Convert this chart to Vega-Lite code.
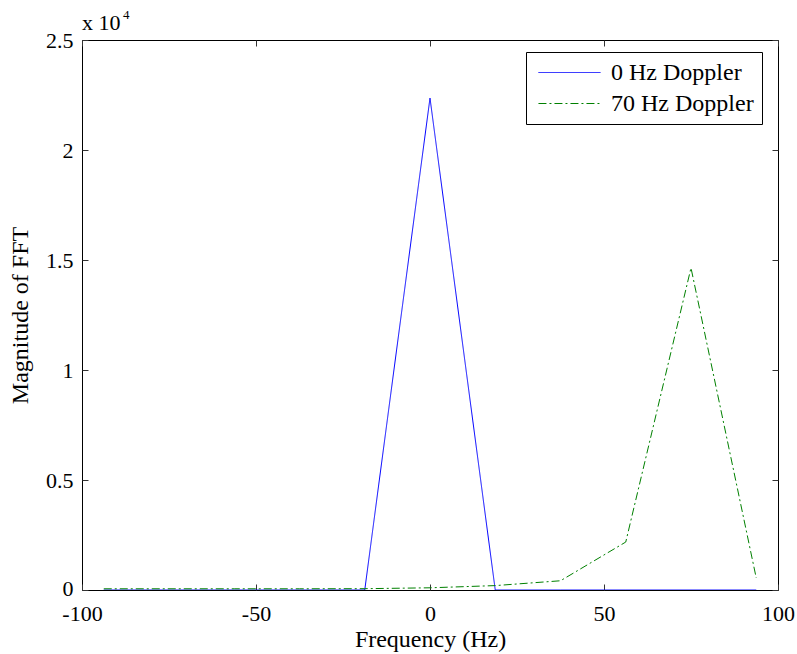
{
  "$schema": "https://vega.github.io/schema/vega-lite/v6.json",
  "autosize": {"type": "none"},
  "width": 696,
  "height": 550,
  "padding": {"left": 82, "top": 40, "right": 19, "bottom": 64},
  "background": "white",
  "config": {
    "view": {"stroke": "#000000", "strokeWidth": 1},
    "font": "Liberation Serif, Times New Roman, serif",
    "axis": {
      "grid": false,
      "domain": false,
      "tickSize": -6,
      "tickColor": "#333333",
      "labelFont": "Liberation Serif, Times New Roman, serif",
      "labelFontSize": 22,
      "labelColor": "#000000",
      "titleFont": "Liberation Serif, Times New Roman, serif",
      "titleFontSize": 24,
      "titleFontWeight": "normal",
      "titleColor": "#000000"
    },
    "legend": {
      "labelFont": "Liberation Serif, Times New Roman, serif",
      "labelFontSize": 24,
      "labelColor": "#000000"
    }
  },
  "datasets": {
    "fft": [
      {"freq": -93.75, "mag": 0, "series": "0 Hz Doppler"},
      {"freq": -75, "mag": 0, "series": "0 Hz Doppler"},
      {"freq": -56.25, "mag": 0, "series": "0 Hz Doppler"},
      {"freq": -37.5, "mag": 0, "series": "0 Hz Doppler"},
      {"freq": -18.75, "mag": 0, "series": "0 Hz Doppler"},
      {"freq": 0, "mag": 22360, "series": "0 Hz Doppler"},
      {"freq": 18.75, "mag": 0, "series": "0 Hz Doppler"},
      {"freq": 37.5, "mag": 0, "series": "0 Hz Doppler"},
      {"freq": 56.25, "mag": 0, "series": "0 Hz Doppler"},
      {"freq": 75, "mag": 0, "series": "0 Hz Doppler"},
      {"freq": 93.75, "mag": 0, "series": "0 Hz Doppler"},
      {"freq": -93.75, "mag": 55, "series": "70 Hz Doppler"},
      {"freq": -75, "mag": 55, "series": "70 Hz Doppler"},
      {"freq": -56.25, "mag": 55, "series": "70 Hz Doppler"},
      {"freq": -37.5, "mag": 55, "series": "70 Hz Doppler"},
      {"freq": -18.75, "mag": 60, "series": "70 Hz Doppler"},
      {"freq": 0, "mag": 100, "series": "70 Hz Doppler"},
      {"freq": 18.75, "mag": 200, "series": "70 Hz Doppler"},
      {"freq": 37.5, "mag": 420, "series": "70 Hz Doppler"},
      {"freq": 56.25, "mag": 2180, "series": "70 Hz Doppler"},
      {"freq": 75, "mag": 14640, "series": "70 Hz Doppler"},
      {"freq": 93.75, "mag": 545, "series": "70 Hz Doppler"}
    ],
    "mult": [{"freq": -100, "mag": 25000, "t": "x 10", "e": "4"}]
  },
  "layer": [
    {
      "data": {"name": "fft"},
      "mark": {"type": "line", "strokeWidth": 1, "clip": true},
      "encoding": {
        "x": {
          "field": "freq", "type": "quantitative",
          "scale": {"domain": [-100, 100], "nice": false, "zero": false},
          "axis": {"values": [-100, -50, 0, 50, 100], "labelExpr": "'' + datum.value", "title": "Frequency (Hz)", "labelPadding": 19, "titlePadding": 3, "labelFlush": false}
        },
        "y": {
          "field": "mag", "type": "quantitative",
          "scale": {"domain": [0, 25000], "nice": false},
          "axis": {"values": [0, 5000, 10000, 15000, 20000, 25000], "labelExpr": "format(datum.value/10000, '~g')", "labelOffset": {"condition": {"test": "datum.value == 0", "value": -2}, "value": 0}, "title": "Magnitude of FFT", "labelPadding": 15, "titlePadding": 13, "labelFlush": false}
        },
        "color": {
          "field": "series", "type": "nominal",
          "scale": {"domain": ["0 Hz Doppler", "70 Hz Doppler"], "range": ["#0000ff", "#008000"]},
          "legend": {
            "title": null, "orient": "none", "legendX": 444, "legendY": 12,
            "symbolType": "M-0.67,0H4.5", "symbolSize": 576, "symbolStrokeWidth": 1,
            "strokeColor": "#000000", "fillColor": "#ffffff", "padding": 8,
            "rowPadding": 6, "labelOffset": 52
          }
        },
        "strokeDash": {
          "field": "series", "type": "nominal",
          "scale": {"domain": ["0 Hz Doppler", "70 Hz Doppler"], "range": [[1, 0], [8, 3, 2, 3]]},
          "legend": null
        }
      }
    },
    {
      "data": {"name": "mult"},
      "mark": {"type": "text", "align": "left", "baseline": "alphabetic", "dy": -10, "fontSize": 22, "font": "Liberation Serif, Times New Roman, serif", "color": "#000000"},
      "encoding": {
        "x": {"field": "freq", "type": "quantitative", "axis": {"orient": "top", "labels": false, "title": null, "values": [-100, -50, 0, 50, 100]}},
        "y": {"field": "mag", "type": "quantitative", "axis": {"orient": "right", "labels": false, "title": null, "values": [0, 5000, 10000, 15000, 20000, 25000]}},
        "text": {"field": "t"}
      }
    },
    {
      "data": {"name": "mult"},
      "mark": {"type": "text", "align": "left", "baseline": "alphabetic", "dx": 41, "dy": -21, "fontSize": 13, "font": "Liberation Serif, Times New Roman, serif", "color": "#000000"},
      "encoding": {
        "x": {"field": "freq", "type": "quantitative", "axis": null},
        "y": {"field": "mag", "type": "quantitative", "axis": null},
        "text": {"field": "e"}
      }
    }
  ],
  "resolve": {"axis": {"x": "independent", "y": "independent"}}
}
